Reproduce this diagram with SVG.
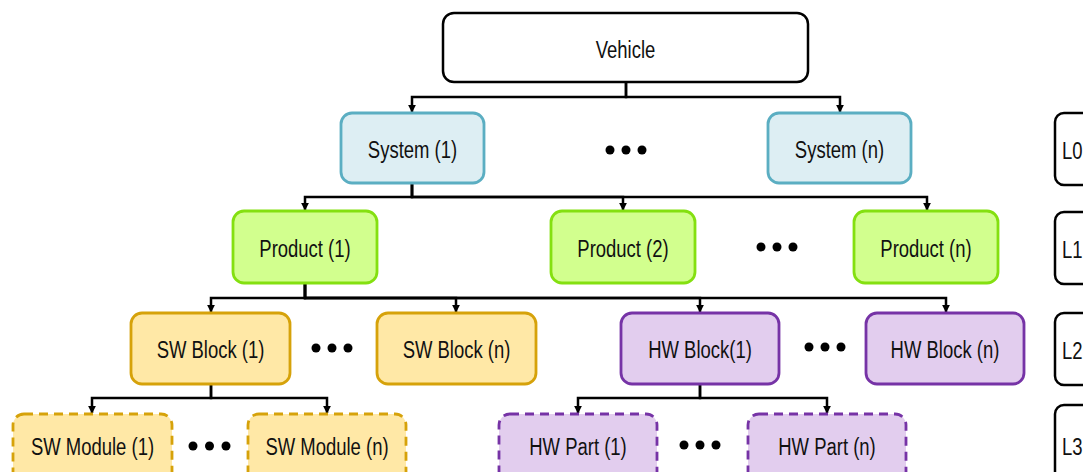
<svg xmlns="http://www.w3.org/2000/svg" width="1083" height="472" viewBox="0 0 1083 472">
<defs>
<style>
.t { font-family: "Liberation Sans", Arial, "DejaVu Sans", sans-serif; font-size: 24px; fill: #111111; text-anchor: middle; }
.tl { text-anchor: start; }
.veh { fill: #ffffff; stroke: #000000; stroke-width: 2.5; }
.sys { fill: #DDEEF3; stroke: #5BAEC2; stroke-width: 2.8; }
.prd { fill: #D2FF8E; stroke: #84E010; stroke-width: 2.8; }
.swb { fill: #FFE8A6; stroke: #D6A20A; stroke-width: 2.8; }
.hwb { fill: #E2CDEE; stroke: #7633A6; stroke-width: 2.8; }
.dash { stroke-dasharray: 9 6; }
.lvl { fill: #ffffff; stroke: #000000; stroke-width: 2.5; }
.conn { fill: none; stroke: #000000; stroke-width: 2.5; marker-end: url(#arr); }
.dot { fill: #000000; }
</style>
<marker id="arr" viewBox="0 0 10 10" refX="9" refY="5" markerWidth="8" markerHeight="8" markerUnits="userSpaceOnUse" orient="auto">
<path d="M0,0 L10,5 L0,10 z" fill="#000000"/>
</marker>
</defs>

<g id="connectors">
<path class="conn" d="M626,82 V97 H412 V112"/>
<path class="conn" d="M626,82 V97 H840 V112"/>
<path class="conn" d="M412,183 V197 H305 V210"/>
<path class="conn" d="M412,183 V197 H623 V210"/>
<path class="conn" d="M412,183 V197 H927 V210"/>
<path class="conn" d="M305,283 V298 H211 V312"/>
<path class="conn" d="M305,283 V298 H456 V312"/>
<path class="conn" d="M305,283 V298 H700 V312"/>
<path class="conn" d="M305,283 V298 H946 V312"/>
<path class="conn" d="M211,384 V398 H92 V413"/>
<path class="conn" d="M211,384 V398 H327 V413"/>
<path class="conn" d="M700,384 V398 H578 V413"/>
<path class="conn" d="M700,384 V398 H827 V413"/>
</g>

<g id="vehicle">
<rect class="veh" x="443" y="13" width="365" height="69" rx="11"/>
<text class="t" transform="translate(625.5,57.5) scale(0.77,1)">Vehicle</text>
</g>

<g id="system-1">
<rect class="sys" x="341" y="113" width="143" height="70" rx="11"/>
<text class="t" transform="translate(412.5,158) scale(0.77,1)">System (1)</text>
</g>
<g id="system-n">
<rect class="sys" x="768" y="113" width="143" height="70" rx="11"/>
<text class="t" transform="translate(839.5,158) scale(0.77,1)">System (n)</text>
</g>

<g id="product-1">
<rect class="prd" x="233" y="211" width="144" height="72" rx="11"/>
<text class="t" transform="translate(305,256.5) scale(0.77,1)">Product (1)</text>
</g>
<g id="product-2">
<rect class="prd" x="551" y="211" width="144" height="72" rx="11"/>
<text class="t" transform="translate(623,256.5) scale(0.77,1)">Product (2)</text>
</g>
<g id="product-n">
<rect class="prd" x="854" y="211" width="144" height="72" rx="11"/>
<text class="t" transform="translate(926,256.5) scale(0.77,1)">Product (n)</text>
</g>

<g id="sw-block-1">
<rect class="swb" x="131" y="313" width="159" height="71" rx="11"/>
<text class="t" transform="translate(210.5,358) scale(0.77,1)">SW Block (1)</text>
</g>
<g id="sw-block-n">
<rect class="swb" x="377" y="313" width="159" height="71" rx="11"/>
<text class="t" transform="translate(456.5,358) scale(0.77,1)">SW Block (n)</text>
</g>
<g id="hw-block-1">
<rect class="hwb" x="621" y="313" width="158" height="71" rx="11"/>
<text class="t" transform="translate(700,358) scale(0.77,1)">HW Block(1)</text>
</g>
<g id="hw-block-n">
<rect class="hwb" x="866" y="313" width="158" height="71" rx="11"/>
<text class="t" transform="translate(945,358) scale(0.77,1)">HW Block (n)</text>
</g>

<g id="sw-module-1">
<rect class="swb dash" x="13" y="414" width="159" height="80" rx="11"/>
<text class="t" transform="translate(92.5,454.5) scale(0.77,1)">SW Module (1)</text>
</g>
<g id="sw-module-n">
<rect class="swb dash" x="248" y="414" width="158" height="80" rx="11"/>
<text class="t" transform="translate(327,454.5) scale(0.77,1)">SW Module (n)</text>
</g>
<g id="hw-part-1">
<rect class="hwb dash" x="499" y="414" width="158" height="80" rx="11"/>
<text class="t" transform="translate(578,454.5) scale(0.77,1)">HW Part (1)</text>
</g>
<g id="hw-part-n">
<rect class="hwb dash" x="748" y="414" width="158" height="80" rx="11"/>
<text class="t" transform="translate(827,454.5) scale(0.77,1)">HW Part (n)</text>
</g>

<g id="level-L0">
<rect class="lvl" x="1055" y="113" width="60" height="72" rx="9"/>
<text class="t tl" transform="translate(1062,159) scale(0.77,1)">L0</text>
</g>
<g id="level-L1">
<rect class="lvl" x="1055" y="212" width="60" height="72" rx="9"/>
<text class="t tl" transform="translate(1062,258) scale(0.77,1)">L1</text>
</g>
<g id="level-L2">
<rect class="lvl" x="1055" y="313" width="60" height="72" rx="9"/>
<text class="t tl" transform="translate(1062,359) scale(0.77,1)">L2</text>
</g>
<g id="level-L3">
<rect class="lvl" x="1055" y="405" width="60" height="85" rx="9"/>
<text class="t tl" transform="translate(1062,455) scale(0.77,1)">L3</text>
</g>

<g id="ellipses">
<circle class="dot" cx="610" cy="150" r="4.5"/><circle class="dot" cx="626" cy="150" r="4.5"/><circle class="dot" cx="642" cy="150" r="4.5"/>
<circle class="dot" cx="761" cy="247" r="4.5"/><circle class="dot" cx="777" cy="247" r="4.5"/><circle class="dot" cx="793" cy="247" r="4.5"/>
<circle class="dot" cx="316" cy="348" r="4.5"/><circle class="dot" cx="332" cy="348" r="4.5"/><circle class="dot" cx="348" cy="348" r="4.5"/>
<circle class="dot" cx="809" cy="347" r="4.5"/><circle class="dot" cx="825" cy="347" r="4.5"/><circle class="dot" cx="841" cy="347" r="4.5"/>
<circle class="dot" cx="193" cy="446" r="4.5"/><circle class="dot" cx="209.5" cy="446" r="4.5"/><circle class="dot" cx="226" cy="446" r="4.5"/>
<circle class="dot" cx="684" cy="445" r="4.5"/><circle class="dot" cx="700" cy="445" r="4.5"/><circle class="dot" cx="716" cy="445" r="4.5"/>
</g>
</svg>
